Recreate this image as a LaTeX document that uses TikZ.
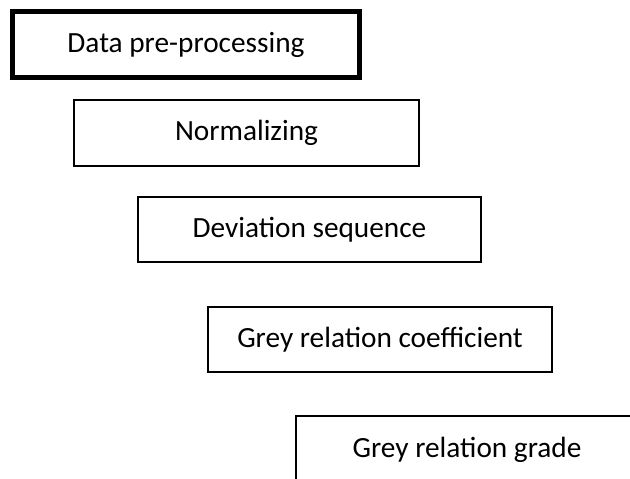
\documentclass[tikz,border=0pt]{standalone}
\usepackage{fontspec}
\setmainfont{Carlito}
\tikzset{
    stage/.style={
        draw, rectangle, line width=1.5pt, inner sep=0pt,
        minimum width=#1, minimum height=66pt,
        font=\fontsize{29.3}{34}\selectfont
    },
    stage/.default=345pt
}
\begin{document}
\begin{tikzpicture}[x=1pt,y=-1pt]
		% page frame
		\path[use as bounding box] (0,0) rectangle (630,479);
		\clip (0,0) rectangle (630,479);

		% the five steps, each moved to the right
		\node[stage=347pt, line width=5pt] (prep) at (186,44.5) {Data pre-processing};
		\node[stage=345pt] (norm) at (246.5,133) {Normalizing};
		\node[stage=343pt, minimum height=65pt] (dev) at (309.5,229.5) {Deviation sequence};
		\node[stage=344pt, minimum height=65pt] (coef) at (380,339.5) {Grey relation coefficient};
		\node[stage=342pt, minimum height=68pt] (grade) at (467,450) {Grey relation grade};

	\end{tikzpicture}
\end{document}
